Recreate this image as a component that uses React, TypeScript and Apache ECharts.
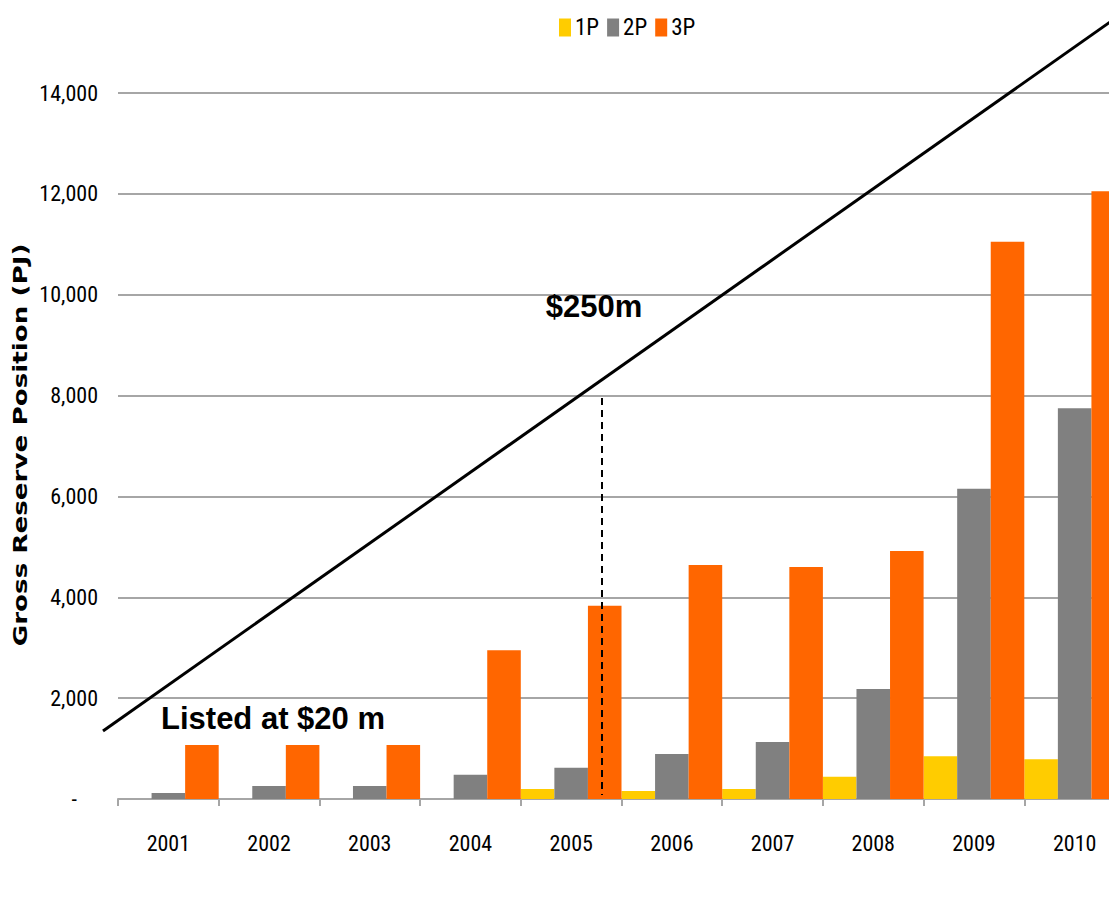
import React, { useEffect, useRef } from "react";
import * as echarts from "echarts";

const years = ["2001", "2002", "2003", "2004", "2005", "2006", "2007", "2008", "2009", "2010"];
const p1 = [0, 0, 0, 0, 200, 160, 200, 440, 850, 790];
const p2 = [120, 260, 260, 480, 620, 890, 1130, 2180, 6150, 7750];
const p3 = [1070, 1070, 1070, 2950, 3830, 4640, 4600, 4920, 11050, 12050];
const seriesNames = ["1P", "2P", "3P"];
const seriesColors = ["#FFCC00", "#808080", "#FF6600"];
const yTicks = [0, 2000, 4000, 6000, 8000, 10000, 12000, 14000];

const NARROW = '"Liberation Sans Narrow", "Arial Narrow", "Roboto Condensed", "Liberation Sans", sans-serif';
const BOLD = '"Liberation Sans", Arial, sans-serif';

export default function App() {
  const ref = useRef<HTMLDivElement>(null);
  useEffect(() => {
    if (!ref.current) return;
    const chart = echarts.init(ref.current, null, { renderer: "svg" });
    const data = [p1, p2, p3];
    chart.setOption({
      animation: false,
      backgroundColor: "#ffffff",
      legend: {
        left: 554,
        top: 11,
        itemWidth: 12,
        itemHeight: 18,
        itemGap: 8,
        icon: "rect",
        textStyle: { fontFamily: NARROW, fontSize: 23, color: "#000", padding: [0, 0, 0, -1] },
        data: seriesNames,
      },
      grid: { left: 118, right: -16, top: 93, bottom: 98, outerBoundsMode: "none", containLabel: false },
      xAxis: {
        type: "category",
        data: years,
        axisLine: { lineStyle: { color: "#a6a6a6", width: 2 } },
        axisTick: { show: true, length: 7, lineStyle: { color: "#a6a6a6", width: 2 } },
        axisLabel: { fontFamily: NARROW, fontSize: 22, color: "#000", margin: 33 },
      },
      yAxis: {
        type: "value",
        min: yTicks[0],
        max: yTicks[yTicks.length - 1],
        interval: 2000,
        axisLine: { show: false },
        axisTick: { show: false },
        splitLine: { lineStyle: { color: "#a6a6a6", width: 2 } },
        axisLabel: {
          fontFamily: NARROW,
          fontSize: 22,
          color: "#000",
          margin: 20,
          formatter: (v: number) => (v === 0 ? "{z|-}" : v.toLocaleString("en-US")),
          rich: {
            z: { fontFamily: NARROW, fontSize: 22, color: "#000", padding: [0, 21, 0, 0] },
          },
        },
      },
      series: seriesNames.map((n, i) => ({
        name: n,
        type: "bar",
        data: data[i],
        barGap: "0%",
        barCategoryGap: "0%",
        itemStyle: { color: seriesColors[i] },
      })),
      graphic: [
        {
          type: "text",
          x: 20,
          y: 445,
          rotation: Math.PI / 2,
          scaleX: 1.31,
          style: {
            text: "Gross Reserve Position (PJ)",
            fontFamily: '"DejaVu Sans", sans-serif',
            fontWeight: "bold",
            fontSize: 20,
            fill: "#000",
            align: "center",
            verticalAlign: "middle",
          },
        },
        {
          type: "line",
          shape: { x1: 103, y1: 731, x2: 1120, y2: 15 },
          style: { stroke: "#000", lineWidth: 3 },
          z: 100,
        },
        {
          type: "line",
          shape: { x1: 602, y1: 398, x2: 602, y2: 795 },
          style: { stroke: "#000", lineWidth: 2, lineDash: [7, 5] },
          z: 100,
        },
        {
          type: "text",
          x: 594,
          y: 306,
          style: {
            text: "$250m",
            fontFamily: BOLD,
            fontWeight: "bold",
            fontSize: 31,
            fill: "#000",
            align: "center",
            verticalAlign: "middle",
          },
          z: 100,
        },
        {
          type: "text",
          x: 273,
          y: 718,
          style: {
            text: "Listed at $20 m",
            fontFamily: BOLD,
            fontWeight: "bold",
            fontSize: 31,
            fill: "#000",
            align: "center",
            verticalAlign: "middle",
          },
          z: 100,
        },
      ],
    });
    return () => chart.dispose();
  }, []);
  return (
    <div
      ref={ref}
      style={{ position: "fixed", left: 0, top: 0, width: 1109, height: 897, overflow: "hidden" }}
    />
  );
}
